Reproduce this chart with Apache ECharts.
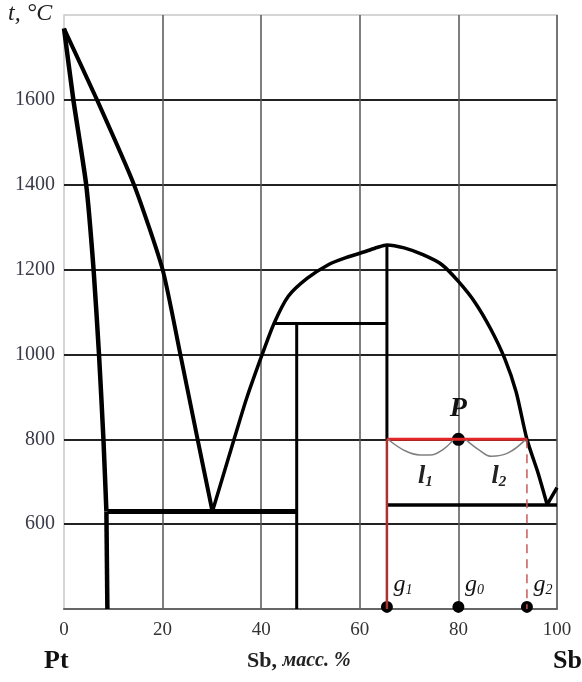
<!DOCTYPE html>
<html>
<head>
    <meta charset="utf-8">
    <title>Pt - Sb</title>
    <script src="https://cdn.jsdelivr.net/npm/echarts@6/dist/echarts.min.js"></script>
    <style>
        html, body { margin: 0; padding: 0; background: #fff; }
        #main { width: 582px; height: 682px; }
    </style>
</head>
<body>
<div id="main"></div>
<script>
    // данные диаграммы Pt-Sb (Sb, масс.% ; t, °C)
    var xTicks = [0, 20, 40, 60, 80, 100];
    var yTicks = [600, 800, 1000, 1200, 1400, 1600];

    var liquidusLeft = [[0, 1768], [6.7, 1600], [14.2, 1400], [20, 1200], [23.6, 1000], [27.1, 800], [30.1, 630]];
    var solidusLeft = [[0, 1768], [1.9, 1600], [4.5, 1400], [6.0, 1200], [7.1, 1000], [8.0, 800], [8.6, 630]];
    var solidusVert = [[8.6, 630], [8.8, 630], [8.8, 400]];
    var liquidusDome = [[30.1, 630], [34.5, 800], [37.0, 895], [40.2, 1000], [42.6, 1073], [45.5, 1137], [49.3, 1179],
        [53.7, 1212], [57.2, 1228], [61.0, 1242], [63.5, 1252], [65.5, 1258], [69.0, 1251], [72.8, 1235],
        [76.6, 1212], [80.0, 1172], [83.4, 1122], [86.5, 1061], [89.4, 990], [91.7, 912], [93.9, 800],
        [96.2, 719], [98.0, 646]];
    var liquidusRight = [[98.0, 646], [100, 686]];
    var eutecticLeft = [[8.8, 630], [47.2, 630]];
    var peritectic = [[42.6, 1073], [65.5, 1073]];
    var phaseLine1 = [[47.2, 1073], [47.2, 400]];
    var phaseLine2 = [[65.5, 1258], [65.5, 800]];
    var eutecticRight = [[65.5, 645], [100, 645]];

    // правило рычага
    var leverLine = [[65.5, 800], [93.9, 800]];
    var g1Line = [[65.5, 800], [65.5, 400]];
    var g2Line = [[93.9, 800], [93.9, 400]];
    var brace1 = [[65.7, 800], [69.0, 774], [72.2, 763], [74.3, 763], [77.0, 777], [78.9, 798]];
    var brace2 = [[81.6, 798], [84.3, 774], [86.7, 760], [90.1, 768], [93.5, 798]];
    var pointP = [80, 800];
    var gPoints = [[65.5, 405, '1'], [80, 405, '0'], [93.9, 405, '2']];
    var lPoints = [[73.3, 712, '1'], [88.2, 712, '2']];

    var serif = 'Liberation Serif';

    function line(data, opt) {
        var s = {
            type: 'line',
            data: data,
            symbol: 'none',
            silent: true,
            lineStyle: { color: '#000', width: 4 }
        };
        for (var k in opt) s[k] = opt[k];
        return s;
    }

    var chart = echarts.init(document.getElementById('main'));
    chart.setOption({
        animation: false,
        backgroundColor: '#fff',
        grid: {
            left: 64, right: 25, top: 15, bottom: 73,
            show: true, borderColor: '#c8c8c8', borderWidth: 1.5
        },
        xAxis: {
            type: 'value', min: 0, max: 100, interval: 20,
            axisLine: { show: true, lineStyle: { color: '#666', width: 2 } },
            axisTick: { show: false },
            axisLabel: {
                margin: 12, fontFamily: serif, fontSize: 19, color: '#333',
                formatter: function (v) { return xTicks.indexOf(v) >= 0 ? String(v) : ''; }
            },
            splitLine: { show: true, showMinLine: false, lineStyle: { color: '#555', width: 1.5 } }
        },
        yAxis: {
            type: 'value', min: 400, max: 1800, interval: 200,
            axisLine: { show: false },
            axisTick: { show: false },
            axisLabel: {
                margin: 9, fontFamily: serif, fontSize: 20, color: '#3a3a48',
                formatter: function (v) { return yTicks.indexOf(v) >= 0 ? String(v) : ''; }
            },
            splitLine: { show: true, showMinLine: false, showMaxLine: false, lineStyle: { color: '#222', width: 2 } }
        },
        graphic: [
            {
                type: 'text', left: 8, top: 2,
                style: { text: 't, °C', font: 'italic 24px "Liberation Serif"', fill: '#222' }
            },
            {
                type: 'text', left: 44, top: 648,
                style: { text: 'Pt', font: 'bold 26px "Liberation Serif"', fill: '#111' }
            },
            {
                type: 'text', left: 247, top: 650,
                style: {
                    text: '{a|Sb, }{b|масс. %}',
                    rich: {
                        a: { font: 'bold 22px "Liberation Serif"', fill: '#222' },
                        b: { font: 'italic bold 20px "Liberation Serif"', fill: '#222' }
                    }
                }
            },
            {
                type: 'text', left: 553, top: 648,
                style: { text: 'Sb', font: 'bold 26px "Liberation Serif"', fill: '#111' }
            }
        ],
        series: [
            line(solidusLeft, { smooth: 0.2, lineStyle: { color: '#000', width: 4.5 } }),
            line(solidusVert, { lineStyle: { color: '#000', width: 4.5 } }),
            line(liquidusLeft, { smooth: 0.2, lineStyle: { color: '#000', width: 4 } }),
            line(eutecticLeft, { lineStyle: { color: '#000', width: 5 } }),
            line(liquidusDome, { smooth: 0.25, lineStyle: { color: '#000', width: 3.5 } }),
            line(liquidusRight, { lineStyle: { color: '#000', width: 3.5 } }),
            line(peritectic, { lineStyle: { color: '#000', width: 3 } }),
            line(phaseLine1, { lineStyle: { color: '#000', width: 3 } }),
            line(phaseLine2, { lineStyle: { color: '#000', width: 3 } }),
            line(eutecticRight, { lineStyle: { color: '#000', width: 3.5 } }),
            line(g1Line, { lineStyle: { color: '#a83232', width: 2.5 } }),
            line(g2Line, { lineStyle: { color: '#c85a5a', width: 1.5, type: [9, 6] } }),
            line(leverLine, { lineStyle: { color: '#e02626', width: 3 } }),
            line(brace1, { smooth: 0.4, lineStyle: { color: '#808080', width: 1.5 } }),
            line(brace2, { smooth: 0.4, lineStyle: { color: '#808080', width: 1.5 } }),
            {
                type: 'scatter',
                silent: true,
                symbolSize: 13,
                itemStyle: { color: '#000', opacity: 1 },
                data: [pointP],
                label: {
                    show: true, position: 'top', distance: 10,
                    formatter: 'P',
                    fontFamily: serif, fontStyle: 'italic', fontWeight: 'bold', fontSize: 28, color: '#111'
                }
            },
            {
                type: 'scatter',
                silent: true,
                symbolSize: 12,
                itemStyle: { color: '#000', opacity: 1 },
                data: gPoints,
                label: {
                    show: true, position: 'top', distance: 4, offset: [16, 0],
                    formatter: function (p) { return '{g|g}{s|' + p.value[2] + '}'; },
                    rich: {
                        g: { fontFamily: serif, fontStyle: 'italic', fontSize: 24, color: '#111', verticalAlign: 'bottom' },
                        s: { fontFamily: serif, fontStyle: 'italic', fontSize: 14, color: '#111', verticalAlign: 'bottom' }
                    }
                }
            },
            {
                type: 'scatter',
                silent: true,
                symbolSize: 0,
                itemStyle: { opacity: 1 },
                data: lPoints,
                label: {
                    show: true, position: 'inside',
                    formatter: function (p) { return '{l|l}{s|' + p.value[2] + '}'; },
                    rich: {
                        l: { fontFamily: serif, fontStyle: 'italic', fontWeight: 'bold', fontSize: 26, color: '#222', verticalAlign: 'bottom' },
                        s: { fontFamily: serif, fontStyle: 'italic', fontWeight: 'bold', fontSize: 15, color: '#222', verticalAlign: 'bottom' }
                    }
                }
            }
        ]
    });
</script>
</body>
</html>
